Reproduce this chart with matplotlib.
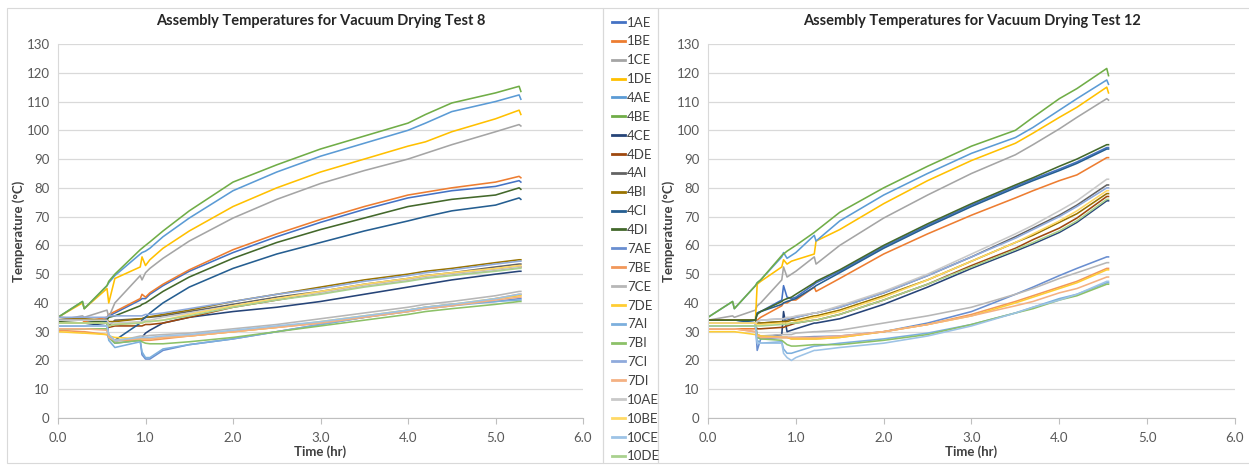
import matplotlib
matplotlib.use("Agg")
import matplotlib.pyplot as plt
from matplotlib.patches import Rectangle
from matplotlib.lines import Line2D

plt.rcParams['font.family'] = ['Lato', 'DejaVu Sans']

# ---- series names / colours (legend order) ----
names = ['1AE', '1BE', '1CE', '1DE', '4AE', '4BE', '4CE', '4DE', '4AI', '4BI', '4CI', '4DI',
         '7AE', '7BE', '7CE', '7DE', '7AI', '7BI', '7CI', '7DI', '10AE', '10BE', '10CE', '10DE']
colors = ['#4472C4', '#ED7D31', '#A5A5A5', '#FFC000', '#5B9BD5', '#70AD47',
          '#264478', '#9E480E', '#636363', '#997300', '#255E91', '#43682B',
          '#698ED0', '#F1975A', '#B7B7B7', '#FFCD33', '#7CAFDD', '#8CC168',
          '#8FAADC', '#F4B183', '#C9C9C9', '#FFD966', '#9DC3E6', '#A9D18E']

# ---- Test 8: time (hr) and temperatures (C) ----
time8 = [0.0, 0.28, 0.30, 0.56, 0.58, 0.65, 0.94, 0.96, 1.0, 1.05, 1.2, 1.5,
         2.0, 2.5, 3.0, 3.5, 4.0, 4.2, 4.5, 5.0, 5.27, 5.29]
test8 = {
    '1AE': [33, 33, 33, 34.5, 35.5, 36.5, 41, 41.5, 41.5, 43, 46, 51, 57.5, 63, 68, 72.5, 76.5, 77.5, 79, 80.5, 82.5, 82],
    '1BE': [34, 34, 33.5, 35, 36, 37, 41.5, 43, 42, 43.5, 46.5, 51.5, 58.5, 64, 69, 73.5, 77.5, 78.5, 80, 82, 84, 83.5],
    '1CE': [34, 35.5, 35, 37.5, 35, 40, 49.5, 48, 50.5, 52, 55.5, 61.5, 69.5, 76, 81.5, 86, 90, 92, 95, 99.5, 102, 101.5],
    '1DE': [35, 40, 38, 45, 40, 48.5, 52.5, 56, 53, 55, 59, 65, 73.5, 80, 85.5, 90, 94.5, 96, 99.5, 104, 107, 105.5],
    '4AE': [35, 40.5, 38, 46, 47, 49.5, 57, 57.5, 58, 59, 63, 69.5, 79, 85.5, 91, 95.5, 100, 102.5, 106.5, 110, 112.3, 110.8],
    '4BE': [35, 40.5, 38, 46, 47.5, 50, 58.5, 59, 60, 61.2, 65, 72, 82, 88, 93.5, 98, 102.5, 105.5, 109.5, 113, 115.3, 113.5],
    '4CE': [32, 32, 32, 33, 28, 27, 27.5, 28, 29.5, 30.5, 33, 35, 37, 38.5, 40.5, 43, 45.5, 46.5, 48, 50, 51, 51],
    '4DE': [33, 33, 33, 33, 31.5, 32, 32, 32, 32.5, 32.5, 33, 35, 38.5, 41, 43.5, 46, 48, 49, 50, 51.5, 52.5, 52.5],
    '4AI': [34, 34, 34, 34, 32, 34, 34.5, 34.5, 35, 35, 35.5, 37, 39.5, 42, 44, 46.5, 48.5, 49.5, 50.5, 52.5, 53.5, 53.5],
    '4BI': [35, 34.5, 34.5, 34, 33.5, 33.5, 34.5, 34.5, 35, 35.2, 36, 37.5, 40.5, 43, 45.5, 48, 50, 51, 52, 54, 55, 55],
    '4CI': [33, 33, 33, 33.5, 28, 27, 33, 34, 35, 36.5, 40, 45.5, 52, 57, 61, 65, 68.5, 70, 72, 74, 76.5, 76],
    '4DI': [33.5, 33, 33, 34, 35, 35.5, 39, 39.5, 40, 41, 44, 49, 55.5, 61, 65.5, 69.5, 73.5, 74.5, 76, 77.5, 80, 79.5],
    '7AE': [32, 32, 32, 32, 28, 26, 27, 22, 20.5, 20.5, 23.5, 25.5, 27.5, 30, 32.5, 35, 37.5, 38.5, 39.5, 40.5, 41.5, 41.5],
    '7BE': [30.5, 30, 30, 29, 28, 27, 27, 27, 27, 27, 27.5, 28.5, 30, 31.5, 33, 35, 37, 38, 39, 41.5, 43, 43],
    '7CE': [33, 33, 33, 33, 28, 26.5, 28.5, 28.5, 28.5, 28.7, 29, 29.5, 31, 32.5, 34.5, 36.5, 38.5, 39.5, 40.5, 42.5, 44, 44],
    '7DE': [30, 29.5, 29.5, 29, 28.5, 28, 27.5, 27.5, 27.5, 27.5, 28, 28.5, 30, 31.5, 33.5, 35.5, 37.5, 38.5, 39.5, 41.5, 42.5, 42.5],
    '7AI': [31, 31, 31, 31, 27, 24.5, 26.5, 23, 21, 21, 24, 25.5, 27.5, 30, 32.5, 35, 37, 38, 39, 40.5, 41, 41],
    '7BI': [31, 31, 31, 31, 28, 26, 27, 26.5, 26, 25.8, 25.8, 26.5, 28, 30, 32, 34, 36, 37, 38, 39.5, 40.5, 40.5],
    '7CI': [35, 35, 35, 35, 35.5, 35.5, 35.5, 35.5, 36, 36, 36.5, 38, 40.5, 43, 45, 47.5, 49.5, 50.5, 51.5, 53.5, 54.5, 54.5],
    '7DI': [31, 31, 31, 30.5, 28, 27, 27.5, 27.5, 27.5, 27.5, 28, 28.5, 30, 31.5, 33, 35, 37, 38, 39, 41, 42, 42],
    '10AE': [34, 34, 34, 34, 33, 33, 33.5, 33.5, 34, 34, 35, 36.5, 39, 41.5, 43.5, 46, 48, 49, 50, 51.5, 52.5, 52.5],
    '10BE': [33, 33, 33, 33, 32, 32.5, 33, 33, 33.5, 33.5, 34, 36, 39, 41.5, 44, 46.5, 48.5, 49.5, 50.5, 52, 53, 53],
    '10CE': [32, 32, 32, 32, 29, 27, 28, 28, 28, 28, 28.5, 29, 30.5, 32, 33.5, 35.5, 37.5, 38.5, 39.5, 41.5, 43, 43],
    '10DE': [33, 33, 33, 33, 32, 32.5, 33, 33, 33.5, 33.5, 34, 35.5, 38.5, 41, 43, 45.5, 47.5, 48.5, 49.5, 51, 52, 52],
}

# ---- Test 12 ----
time12 = [0.0, 0.28, 0.30, 0.54, 0.56, 0.60, 0.84, 0.86, 0.90, 0.95, 1.0, 1.21, 1.23,
          1.5, 2.0, 2.5, 3.0, 3.5, 3.7, 4.0, 4.2, 4.54, 4.56]
test12 = {
    '1AE': [33, 33, 33, 34, 36.5, 37, 41, 46, 42, 41.5, 42, 46.5, 47, 51, 59.5, 67, 74, 80.5, 83, 86.5, 89, 94, 94],
    '1BE': [31, 31, 31, 31, 34, 35, 39, 40, 40, 41, 41, 45.5, 44, 48.5, 57, 64, 70.5, 76.5, 79, 82.5, 84.5, 90.5, 90.5],
    '1CE': [34, 35.5, 35, 37.5, 39, 40, 48, 52.5, 49, 50, 51, 56, 53.5, 60, 69.5, 77.5, 85, 91.5, 95, 100.5, 104.5, 111, 110.5],
    '1DE': [34, 34, 34, 34, 46.5, 47.5, 52.5, 55, 53.5, 54.5, 55, 57, 61.5, 65.5, 74.5, 82.5, 89.5, 95.5, 99, 104.5, 108, 115, 113],
    '4AE': [35, 40.5, 38, 46, 47, 48, 56, 57.5, 55.5, 56.5, 57.5, 63.5, 61.5, 68.5, 77.5, 85, 92, 97.5, 101, 107, 111, 117.5, 116],
    '4BE': [35, 40.5, 38, 46, 47, 48, 56.5, 57, 58, 59, 60, 64.5, 65, 71.5, 80, 87.5, 94.5, 100, 104.5, 111, 114.5, 121.5, 119],
    '4CE': [33, 33, 33, 33, 28, 28, 29, 37, 30, 30.5, 31, 33, 33, 34.5, 39.5, 45.5, 52, 58, 60.5, 64.5, 68, 75.5, 75.5],
    '4DE': [32, 32, 32, 32, 31, 31, 31.5, 31.5, 32, 32.5, 33, 34, 34, 36, 41, 46.5, 53, 59, 62, 66, 69.5, 77, 77],
    '4AI': [34, 34, 34, 34, 33, 33, 33.5, 33.5, 34, 34.5, 35, 36.5, 36.5, 38.5, 43.5, 49.5, 56, 63, 66, 70.5, 74, 81, 81],
    '4BI': [34, 34, 34, 34, 33, 33, 33.5, 33.5, 33.5, 34, 34, 35.5, 35.5, 37.5, 42.5, 48, 54.5, 61, 63.5, 68, 71, 78, 78],
    '4CI': [33, 33, 33, 34, 36.5, 37, 39.5, 40, 40.5, 41, 41.5, 45.5, 46, 50.5, 59, 66.5, 73.5, 80, 82.5, 86, 88.5, 93.5, 93.5],
    '4DI': [34, 34, 34, 34, 36, 37, 40.5, 41, 41.5, 42, 43, 47, 47.5, 51.5, 60, 67.5, 74.5, 81, 83.5, 87.5, 90, 95, 95],
    '7AE': [33, 33, 33, 33, 23.5, 27.5, 28, 28, 28, 28, 28, 28.3, 28.3, 28.5, 30, 33, 37, 43, 45.5, 49.5, 52, 56, 56],
    '7BE': [31, 31, 31, 30, 29, 28.5, 28, 28, 28, 27.5, 27.5, 27.5, 27.5, 28, 30, 32.5, 36, 40.5, 42.5, 45.5, 47.5, 52, 52],
    '7CE': [33, 33, 33, 33, 29, 28.5, 29, 29, 29, 29, 29.5, 30, 30, 30.5, 33, 35.5, 38.5, 43, 45, 48.5, 50.5, 54, 54],
    '7DE': [30, 30, 30, 29, 29, 28.5, 28, 28, 28, 27.5, 27.5, 27.5, 27.5, 28, 30, 32.5, 35.5, 40, 42, 45, 47, 51.5, 51.5],
    '7AI': [32, 32, 32, 32, 27, 26, 26.5, 24, 22.5, 22.5, 23, 25, 25, 26, 27.5, 29.5, 32.5, 36.5, 38.5, 41.5, 43, 47, 47],
    '7BI': [32, 32, 32, 32, 28, 27.5, 27, 26.5, 25.5, 25, 25, 25.5, 25.5, 25.5, 27, 29, 32.5, 36.5, 38, 41, 42.5, 46.5, 46.5],
    '7CI': [33, 33, 33, 33, 33.5, 34, 34.5, 34.5, 34.5, 35, 35, 36.5, 36.5, 38.5, 43.5, 49.5, 56, 62.5, 65.5, 70, 73.5, 80, 80],
    '7DI': [31, 31, 31, 30, 28.5, 28, 28, 28, 28, 28, 28, 28, 28, 28.5, 30, 32.5, 35.5, 39, 40.5, 43.5, 45, 49, 49],
    '10AE': [33, 33, 33, 33, 33.5, 34, 34.5, 34.5, 35, 35, 35.5, 36.5, 36.5, 39, 44, 50, 57, 64, 67, 72, 75.5, 83, 83],
    '10BE': [33, 33, 33, 33, 32.5, 32.5, 33, 33, 33, 33, 33.5, 35, 35, 37, 42, 48, 54.5, 61, 64, 68.5, 72, 79, 79],
    '10CE': [32, 32, 32, 32, 26, 26, 26, 22.5, 21, 20, 21, 23.5, 23.5, 24.5, 26, 28.5, 32, 36.5, 38.5, 41, 43, 47.5, 47.5],
    '10DE': [32, 32, 32, 32, 32, 32, 32.5, 32.5, 32.5, 33, 33, 34, 34, 36, 41, 46.5, 52.5, 58.5, 61, 65, 68.5, 76, 76],
}

W, H = 1249, 468
fig = plt.figure(figsize=(W / 100, H / 100), dpi=100)
fig.patch.set_facecolor('white')

# chart frames like the Excel chart areas
frame_col = '#D9D9D9'
for x0, x1 in [(7, 603), (603, 658), (658, 1252)]:
    fig.patches.append(Rectangle((x0 / W, 1 - 463 / H), (x1 - x0) / W, (463 - 8) / H,
                                 transform=fig.transFigure, fill=False,
                                 edgecolor=frame_col, linewidth=0.8))


def draw_panel(ax, times, data, title):
    for name, col in zip(names, colors):
        ax.plot(times, data[name], color=col, linewidth=1.15, solid_joinstyle='round')
    ax.set_xlim(0, 6)
    ax.set_ylim(0, 130)
    ax.set_xticks([0, 1, 2, 3, 4, 5, 6])
    ax.set_xticklabels(['%.1f' % v for v in range(7)])
    ax.set_yticks(range(0, 131, 10))
    ax.grid(axis='y', color='#D9D9D9', linewidth=0.9)
    ax.set_axisbelow(True)
    for s in ['top', 'right']:
        ax.spines[s].set_visible(False)
    ax.spines['left'].set_color('#D9D9D9')
    ax.spines['bottom'].set_color('#BFBFBF')
    ax.tick_params(axis='y', length=0, labelsize=9.5, labelcolor='#595959', pad=6)
    ax.tick_params(axis='x', length=4, color='#BFBFBF', labelsize=9.5, labelcolor='#595959', pad=6)
    ax.set_title(title, fontsize=10.5, fontweight='bold', color='#262626', pad=14)
    ax.set_xlabel('Time (hr)', fontsize=9.5, fontweight='bold', color='#404040', labelpad=1)
    ax.set_ylabel('Temperature (\u00b0C)', fontsize=9.5, fontweight='bold', color='#404040', labelpad=1)


ax1 = fig.add_axes([58 / W, 50 / H, 525 / W, 374 / H])
ax2 = fig.add_axes([708 / W, 50 / H, 527 / W, 374 / H])
draw_panel(ax1, time8, test8, 'Assembly Temperatures for Vacuum Drying Test 8')
draw_panel(ax2, time12, test12, 'Assembly Temperatures for Vacuum Drying Test 12')

handles = [Line2D([], [], color=c, linewidth=2) for c in colors]
fig.legend(handles, names, loc='upper left', bbox_to_anchor=(605 / W, 1 - 10 / H),
           frameon=False, fontsize=9.5, handlelength=1.0, handletextpad=0.15,
           labelspacing=0.52, borderpad=0, labelcolor='#404040')

fig.savefig('out.png', dpi=100)
